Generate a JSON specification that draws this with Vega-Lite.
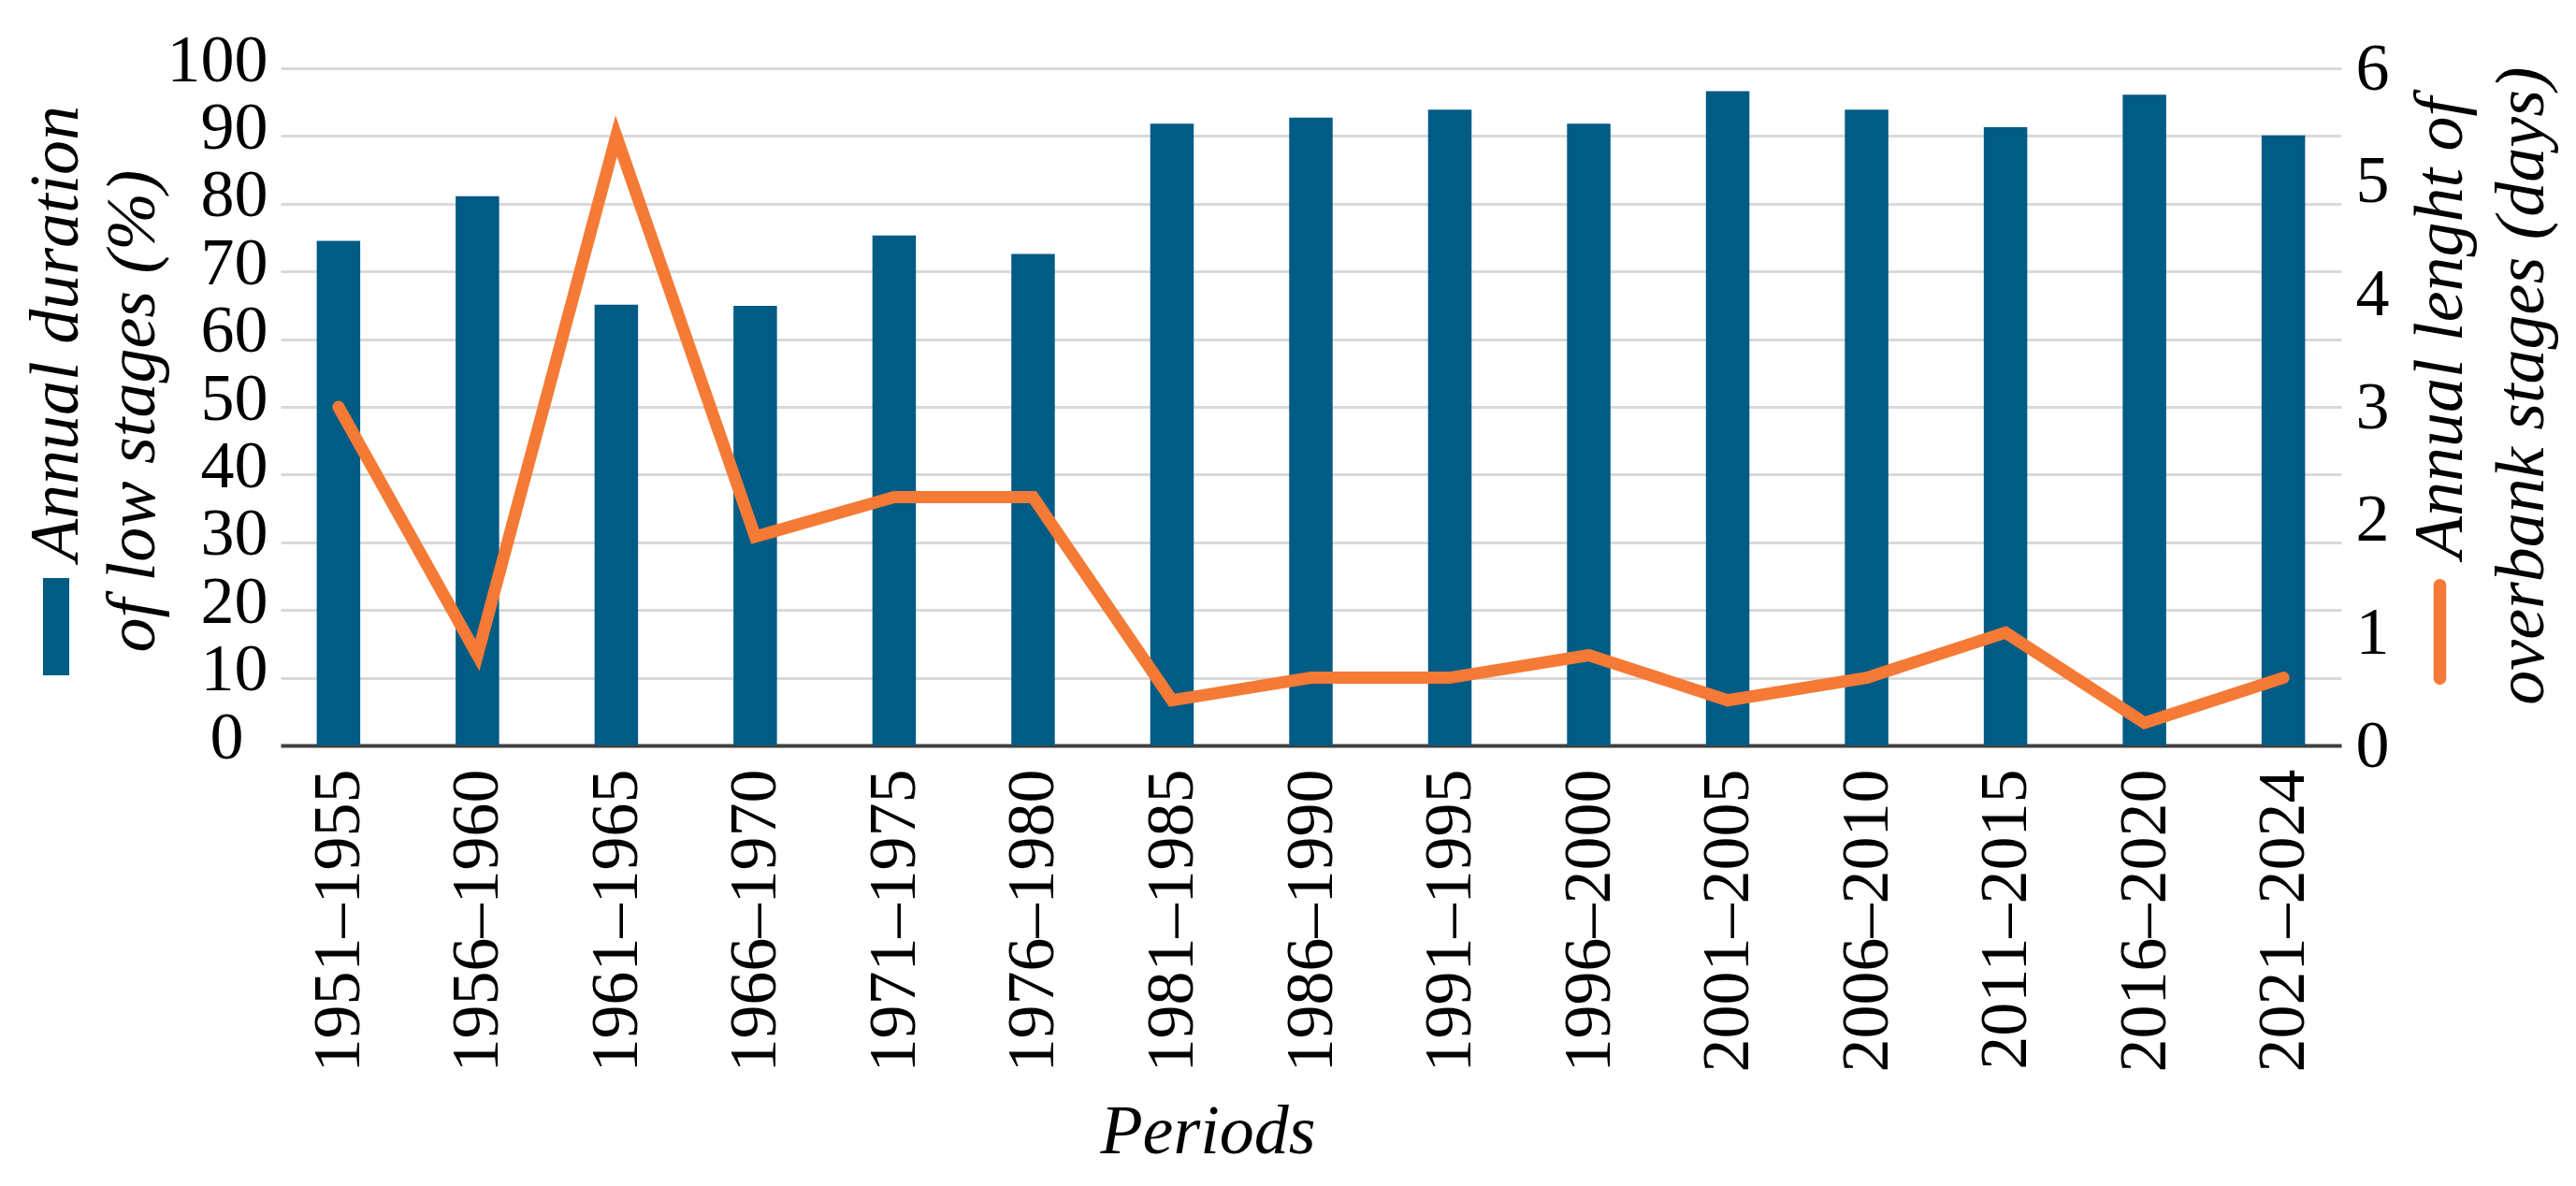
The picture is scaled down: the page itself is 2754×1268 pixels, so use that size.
{
  "$schema": "https://vega.github.io/schema/vega-lite/v6.json",
  "width": 2203,
  "height": 724,
  "autosize": {"type": "none"},
  "padding": {"left": 300, "top": 73, "right": 251, "bottom": 471},
  "background": "white",
  "config": {
    "view": {"stroke": null},
    "font": "Liberation Serif",
    "axis": {"labelFont": "Liberation Serif", "titleFont": "Liberation Serif", "labelColor": "#000000", "titleColor": "#000000", "titleFontStyle": "italic", "titleFontWeight": "normal"},
    "axisY": {"titleFontSize": 74, "titleAngle": -90, "titleAlign": "center", "titleBaseline": "top"}
  },
  "data": {
    "values": [
      {"period": "1951–1955", "low": 74.5, "overbank": 3.0},
      {"period": "1956–1960", "low": 81.1, "overbank": 0.8},
      {"period": "1961–1965", "low": 65.1, "overbank": 5.4},
      {"period": "1966–1970", "low": 64.9, "overbank": 1.85},
      {"period": "1971–1975", "low": 75.3, "overbank": 2.2},
      {"period": "1976–1980", "low": 72.6, "overbank": 2.2},
      {"period": "1981–1985", "low": 91.8, "overbank": 0.4},
      {"period": "1986–1990", "low": 92.7, "overbank": 0.6},
      {"period": "1991–1995", "low": 93.9, "overbank": 0.6},
      {"period": "1996–2000", "low": 91.8, "overbank": 0.8},
      {"period": "2001–2005", "low": 96.6, "overbank": 0.4},
      {"period": "2006–2010", "low": 93.9, "overbank": 0.6},
      {"period": "2011–2015", "low": 91.3, "overbank": 1.0},
      {"period": "2016–2020", "low": 96.1, "overbank": 0.2},
      {"period": "2021–2024", "low": 90.1, "overbank": 0.6}
    ]
  },
  "encoding": {
    "x": {
      "field": "period",
      "type": "nominal",
      "sort": null,
      "scale": {"paddingInner": 0.687, "paddingOuter": 0.26},
      "axis": {
        "labelAngle": -90,
        "labelFontSize": 72,
        "labelPadding": 25,
        "labelLimit": 0,
        "ticks": false,
        "domain": true,
        "domainColor": "#404040",
        "domainWidth": 4,
        "grid": false,
        "title": "Periods",
        "titleFontSize": 74,
        "titleAngle": 0,
        "titleX": 991,
        "titleY": 435,
        "titleBaseline": "alphabetic",
        "titleAlign": "center"
      }
    }
  },
  "layer": [
    {
      "mark": {"type": "bar"},
      "encoding": {
        "y": {
          "field": "low",
          "type": "quantitative",
          "scale": {"domain": [0, 100], "nice": false},
          "axis": {
            "orient": "left",
            "values": [0, 10, 20, 30, 40, 50, 60, 70, 80, 90, 100],
            "grid": true,
            "gridColor": "#d9d9d9",
            "gridWidth": 3,
            "domain": false,
            "ticks": false,
            "labelFontSize": 72,
            "labelPadding": {"condition": {"test": "datum.value === 0", "value": 40}, "value": 14},
            "labelOffset": -9,
            "title": "Annual duration",
            "titleX": -276,
            "titleY": 283
          }
        },
        "fill": {
          "datum": "low",
          "scale": {"range": ["#005B85"]},
          "legend": {
            "orient": "none",
            "legendX": -292,
            "legendY": 545,
            "title": null,
            "labelExpr": "''",
            "symbolType": "M-0.27,-1L0.27,-1L0.27,1L-0.27,1Z",
            "symbolSize": 10816,
            "symbolStrokeWidth": 0,
            "symbolOpacity": 1,
            "padding": 0,
            "offset": 0
          }
        }
      }
    },
    {
      "mark": {"type": "line", "strokeWidth": 13, "strokeCap": "round", "strokeJoin": "miter"},
      "encoding": {
        "y": {
          "field": "overbank",
          "type": "quantitative",
          "scale": {"domain": [0, 6], "nice": false},
          "axis": {
            "orient": "right",
            "values": [0, 1, 2, 3, 4, 5, 6],
            "grid": false,
            "domain": false,
            "ticks": false,
            "labelFontSize": 72,
            "labelPadding": 15,
            "title": "Annual lenght of",
            "titleX": 70,
            "titleY": 277
          }
        },
        "stroke": {
          "datum": "overbank",
          "scale": {"range": ["#F57A36"]},
          "legend": {
            "orient": "none",
            "legendX": 2252,
            "legendY": 546,
            "title": null,
            "labelExpr": "''",
            "symbolType": "M-0.12,-0.88A0.12,0.12 0 0 1 0.12,-0.88L0.12,0.88A0.12,0.12 0 0 1 -0.12,0.88Z",
            "symbolSize": 12769,
            "symbolFillColor": "#F57A36",
            "symbolStrokeWidth": 0,
            "symbolOpacity": 1,
            "padding": 0,
            "offset": 0
          }
        }
      }
    },
    {
      "mark": {"type": "point", "opacity": 0},
      "encoding": {
        "y": {
          "field": "low",
          "type": "quantitative",
          "scale": {"domain": [0, 100], "nice": false},
          "axis": {
            "orient": "left",
            "labels": false,
            "grid": false,
            "domain": false,
            "ticks": false,
            "title": "of low stages (%)",
            "titleX": -194,
            "titleY": 366
          }
        }
      }
    },
    {
      "mark": {"type": "point", "opacity": 0},
      "encoding": {
        "y": {
          "field": "overbank",
          "type": "quantitative",
          "scale": {"domain": [0, 6], "nice": false},
          "axis": {
            "orient": "right",
            "labels": false,
            "grid": false,
            "domain": false,
            "ticks": false,
            "title": "overbank stages (days)",
            "titleX": 157,
            "titleY": 339
          }
        }
      }
    }
  ],
  "resolve": {"scale": {"y": "independent"}}
}
